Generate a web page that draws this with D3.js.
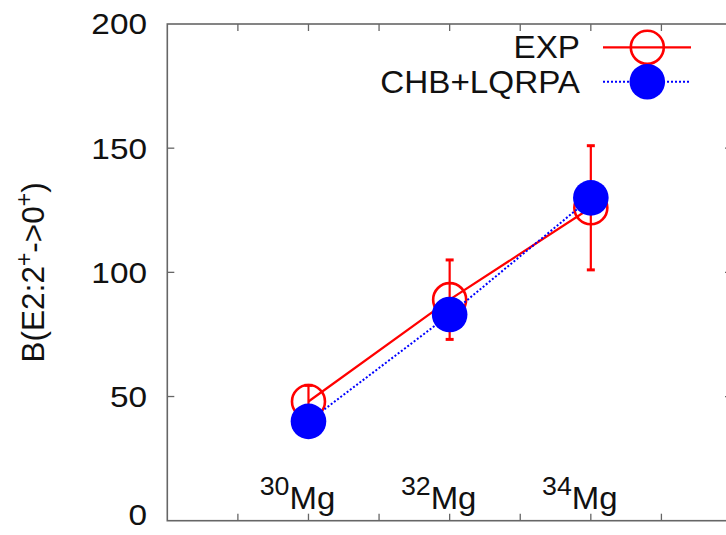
<!DOCTYPE html>
<html>
<head>
<meta charset="utf-8">
<script src="https://cdn.jsdelivr.net/npm/d3@7"></script>
<style>
  body { margin: 0; background: #fff; }
  svg text { font-family: "Liberation Sans", Arial, Helvetica, sans-serif; fill: #111; }
</style>
</head>
<body>
<div id="graphic"></div>
<script>
var width = 726, height = 535;

// data
var nuclei = ["30", "32", "34"];
var massNumbers = [30, 32, 34];
var expValues = [48, 89, 126];
var expErrors = [6.5, 16, 25];
var calcValues = [40, 83, 130];
var yTicks = [0, 50, 100, 150, 200];
var xTicks = [29, 30, 31, 32, 33, 34, 35];

var svg = d3.select("#graphic")
  .append("svg")
  .attr("width", width)
  .attr("height", height);

var x = d3.scaleLinear().domain([28, 36]).range([167.3, 732]);
var y = d3.scaleLinear().domain([0, 200]).range([520.7, 24]);

var frameColor = "#666";

// the original figure is a bit stretched sideways, so texts get a scaleX
function place(tx, ty, sx){
  return "translate(" + tx + "," + ty + ") scale(" + sx + ",1)";
}

// frame
svg.append("rect")
  .attr("x", x(28)).attr("y", y(200))
  .attr("width", x(36) - x(28)).attr("height", y(0) - y(200))
  .attr("fill", "none")
  .attr("stroke", frameColor)
  .attr("stroke-width", 1.6);

var tl = 7;
var ticks = svg.append("g").attr("stroke", frameColor).attr("stroke-width", 1.3);
xTicks.forEach(function(t){
  ticks.append("line").attr("x1", x(t)).attr("x2", x(t)).attr("y1", y(0)).attr("y2", y(0) - tl);
  ticks.append("line").attr("x1", x(t)).attr("x2", x(t)).attr("y1", y(200)).attr("y2", y(200) + tl);
});
yTicks.slice(1, -1).forEach(function(t){
  ticks.append("line").attr("x1", x(28)).attr("x2", x(28) + tl).attr("y1", y(t)).attr("y2", y(t));
  ticks.append("line").attr("x1", x(36)).attr("x2", x(36) - tl).attr("y1", y(t)).attr("y2", y(t));
});

// y tick labels
svg.selectAll("text.ytick")
  .data(yTicks)
  .enter().append("text")
  .attr("class", "ytick")
  .attr("transform", function(d){ return place(147, Math.min(y(d), 515), 1.15); })
  .attr("dy", "0.36em")
  .attr("text-anchor", "end")
  .attr("font-size", 29)
  .text(function(d){ return d; });

// y axis title
var yt = svg.append("text")
  .attr("transform", "translate(44," + y(100) + ") rotate(-90)")
  .attr("text-anchor", "middle")
  .attr("font-size", 31.5);
yt.append("tspan").text("B(E2:2");
yt.append("tspan").attr("dy", -12).attr("font-size", 23).text("+");
yt.append("tspan").attr("dy", 12).text("->0");
yt.append("tspan").attr("dy", -12).attr("font-size", 23).text("+");
yt.append("tspan").attr("dy", 12).text(")");

// nucleus labels inside the plot
svg.selectAll("text.nuc")
  .data(nuclei)
  .enter().append("text")
  .attr("class", "nuc")
  .attr("transform", function(d, i){ return place(x(massNumbers[i]) - 11, y(4.8), 1.03); })
  .attr("text-anchor", "middle")
  .attr("font-size", 32)
  .each(function(d){
    var t = d3.select(this);
    t.append("tspan").attr("font-size", 26).attr("dy", -14).text(d);
    t.append("tspan").attr("dy", 14).text("Mg");
  });

var red = "#ff0000", blue = "#0000ff";

var line = d3.line()
  .x(function(d){ return x(d[0]); })
  .y(function(d){ return y(d[1]); });

// EXP
svg.append("path")
  .datum(d3.zip(massNumbers, expValues))
  .attr("d", line)
  .attr("fill", "none")
  .attr("stroke", red)
  .attr("stroke-width", 2.2);

var err = svg.append("g").attr("stroke", red).attr("stroke-width", 2.2);
massNumbers.forEach(function(m, i){
  var cx = x(m), top = y(expValues[i] + expErrors[i]), bot = y(expValues[i] - expErrors[i]);
  err.append("line").attr("x1", cx).attr("x2", cx).attr("y1", top).attr("y2", bot);
  err.append("line").attr("x1", cx - 4).attr("x2", cx + 4).attr("y1", top).attr("y2", top).attr("stroke-width", 3);
  err.append("line").attr("x1", cx - 4).attr("x2", cx + 4).attr("y1", bot).attr("y2", bot).attr("stroke-width", 3);
});

svg.selectAll("circle.exp")
  .data(expValues)
  .enter().append("circle")
  .attr("class", "exp")
  .attr("cx", function(d, i){ return x(massNumbers[i]); })
  .attr("cy", function(d){ return y(d); })
  .attr("r", 16.5)
  .attr("fill", "none")
  .attr("stroke", red)
  .attr("stroke-width", 2.6);

// CHB+LQRPA
svg.append("path")
  .datum(d3.zip(massNumbers, calcValues))
  .attr("d", line)
  .attr("fill", "none")
  .attr("stroke", blue)
  .attr("stroke-width", 2)
  .attr("stroke-dasharray", "2,2");

svg.selectAll("circle.calc")
  .data(calcValues)
  .enter().append("circle")
  .attr("class", "calc")
  .attr("cx", function(d, i){ return x(massNumbers[i]); })
  .attr("cy", function(d){ return y(d); })
  .attr("r", 17.8)
  .attr("fill", blue);

// legend
var legend = svg.append("g").attr("class", "legend");
var series = [
  {name: "EXP", color: red, dash: null, filled: false},
  {name: "CHB+LQRPA", color: blue, dash: "2,2", filled: true}
];
series.forEach(function(s, i){
  var ly = 47.3 + i * 34.4;
  legend.append("text")
    .attr("transform", place(580, ly, 1.09))
    .attr("dy", "0.36em")
    .attr("text-anchor", "end")
    .attr("font-size", 30.5)
    .text(s.name);
  legend.append("line")
    .attr("x1", 603).attr("x2", 691).attr("y1", ly).attr("y2", ly)
    .attr("stroke", s.color)
    .attr("stroke-width", s.filled ? 2 : 2.2)
    .attr("stroke-dasharray", s.dash);
  legend.append("circle")
    .attr("cx", 647.3).attr("cy", ly)
    .attr("r", s.filled ? 17.8 : 16.5)
    .attr("fill", s.filled ? s.color : "none")
    .attr("stroke", s.filled ? "none" : s.color)
    .attr("stroke-width", 2.6);
});
</script>
</body>
</html>
